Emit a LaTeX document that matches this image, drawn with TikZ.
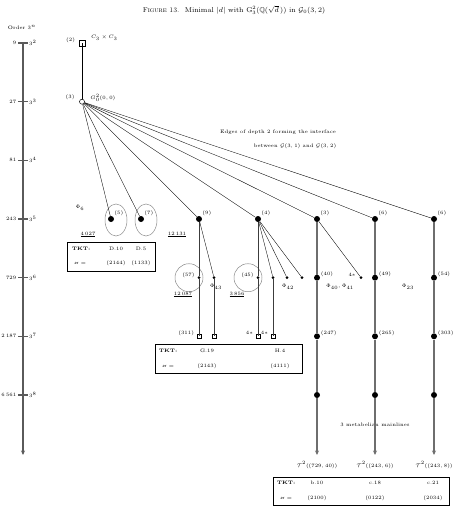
\documentclass[tikz,border=0pt]{standalone}
\usepackage{amsmath}
\usepackage{amssymb}
\usepackage{xcolor}
\usepackage{tikz}
\usetikzlibrary{arrows.meta, positioning, calc, shapes.geometric}
\definecolor{inkAxis}{HTML}{5A5A5A}
\definecolor{inkMain}{HTML}{6E6E6E}
\definecolor{inkStem}{HTML}{3C3C3C}
\definecolor{inkRing}{HTML}{8A8A8A}

\begin{document}
\begin{tikzpicture}[
    x=1pt, y=-1pt,
    lab/.style={font=\fontsize{5}{6}\selectfont, inner sep=0.5pt},
    bigdot/.style={circle, fill=black, inner sep=0pt, minimum size=6pt},
    smalldot/.style={circle, fill=black, inner sep=0pt, minimum size=3pt},
    abel/.style={rectangle, draw, line width=0.6pt, inner sep=0pt, minimum size=4pt},
    rootsq/.style={abel, minimum size=6pt},
    capnode/.style={circle, draw, line width=0.5pt, inner sep=0pt, minimum size=5pt},
    oval/.style={ellipse, draw=inkRing, line width=0.5pt, inner sep=0pt,
                 minimum width=22pt, minimum height=32pt},
    ring/.style={circle, draw=inkRing, line width=0.5pt, inner sep=0pt, minimum size=28pt},
    tkt/.style={rectangle, draw, line width=0.7pt, inner sep=0pt},
    thin/.style={line width=0.35pt},
    stem/.style={line width=0.9pt, draw=inkStem},
    mainline/.style={line width=1.4pt, draw=inkMain},
    axis/.style={line width=1.2pt, draw=inkAxis},
    arr/.style={-{Stealth[length=4.5pt, width=4pt]}},
  ]
    \useasboundingbox (0,0) rectangle (459,512);

    \node[font=\fontsize{7}{8.5}\selectfont] (title) at (234,10)
      {\textsc{Figure 13.}\ \ Minimal $\lvert d\rvert$ with $\mathrm{G}^2_3(\mathbb{Q}(\sqrt{d}\,))$ in $\mathcal{G}_0(3,2)$};

    % order scale
    \node[lab] (order) at (22,27) {Order $3^n$};
    \coordinate (axtop) at (23,43);
    \coordinate (axend) at (23,455);
    \draw[axis, arr] (axtop) -- (axend);
    \foreach \k/\n [count=\i from 0] in {2/9, 3/27, 4/81, 5/243, 6/729, 7/2\,187, 8/6\,561} {
      \coordinate (t\k) at (23,43+58.67*\i);
      \draw[axis] ([xshift=-5pt]t\k) -- ([xshift=5pt]t\k);
      \node[lab, anchor=east] (num\k) at ([xshift=-6pt]t\k) {$\n$};
      \node[lab, anchor=west] (pow\k) at ([xshift=5.5pt]t\k) {$3^{\k}$};
    }

    % root and its child
    \node[rootsq] (root) at (82,43) {};
    \node[lab, left=3pt of root, yshift=3pt] (lroot) {(2)};
    \node[lab, right=5pt of root, yshift=5pt] (groot) {$C_3\times C_3$};
    \node[capnode] (gz) at (82,101.7) {};
    \node[lab, left=4pt of gz, yshift=4pt] (lgz) {(3)};
    \node[lab, right=5pt of gz, yshift=4pt] (ggz) {$G^2_0(0,0)$};
    \draw[thin] (root.center) -- (gz);

    % depth 2 edges
    \node[lab] (note1) at (278,132) {Edges of depth 2 forming the interface};
    \node[lab] (note2) at (295,146) {between $\mathcal{G}(3,1)$ and $\mathcal{G}(3,2)$};

    % order 243
    \node[bigdot] (n5) at (111,219) {};
    \node[bigdot] (n7) at (141,219) {};
    \node[bigdot] (n9) at (199,219) {};
    \node[bigdot] (n4) at (258,219) {};
    \node[bigdot] (n3) at (317,219) {};
    \node[bigdot] (n6a) at (375,219) {};
    \node[bigdot] (n6b) at (434,219) {};
    \node[lab, above right=0pt and 0.5pt of n5] (l5) {(5)};
    \node[lab, above right=0pt and 0.5pt of n7] (l7) {(7)};
    \node[lab, above right=0pt and 0.5pt of n9] (l9) {(9)};
    \node[lab, above right=0pt and 0.5pt of n4] (l4) {(4)};
    \node[lab, above right=0pt and 0.5pt of n3] (l3) {(3)};
    \node[lab, above right=0pt and 0.5pt of n6a] (l6a) {(6)};
    \node[lab, above right=0pt and 0.5pt of n6b] (l6b) {(6)};
    \node[oval] (cap5) at (116,220) {};
    \node[oval] (cap7) at (146,220) {};
    \node[lab] (phi6) at (80,208) {$\Phi_6$};
    \node[lab] (d5) at (88,234) {\underline{$4\,027$}};
    \node[lab] (d9) at (177,234) {\underline{$12\,131$}};

    \foreach \t in {n5, n7, n9, n4, n3, n6a, n6b}
      \draw[thin] (gz) -- (\t);

    % order 729
    \node[smalldot] (a57) at (199,277.7) {};
    \node[smalldot] (a43) at (214,277.7) {};
    \node[smalldot] (b45) at (258,277.7) {};
    \node[smalldot] (b1) at (273,277.7) {};
    \node[smalldot] (b2) at (287,277.7) {};
    \node[smalldot] (b3) at (302,277.7) {};
    \node[smalldot] (c1) at (361,277.7) {};
    \node[bigdot] (m40) at (317,277.7) {};
    \node[bigdot] (m49) at (375,277.7) {};
    \node[bigdot] (m54) at (434,277.7) {};
    \node[ring] (ring57) at (189,277.7) {};
    \node[ring] (ring45) at (248,277.7) {};
    \node[lab, left=2pt of a57, yshift=2.5pt] (l57) {(57)};
    \node[lab, left=2pt of b45, yshift=2.5pt] (l45) {(45)};
    \node[lab, left=3pt of c1, yshift=2.5pt] (lc1) {$4\ast$};
    \node[lab, above right=-2pt and 1pt of m40] (l40) {(40)};
    \node[lab, above right=-2pt and 1pt of m49] (l49) {(49)};
    \node[lab, above right=-2pt and 1pt of m54] (l54) {(54)};
    \node[lab] (phi43) at (216,287) {$\Phi_{43}$};
    \node[lab] (phi42) at (288,287) {$\Phi_{42}$};
    \node[lab] (phi40) at (340,287) {$\Phi_{40},\Phi_{41}$};
    \node[lab] (phi23) at (408,287) {$\Phi_{23}$};
    \node[lab] (d57) at (183,294) {\underline{$12\,087$}};
    \node[lab] (d45) at (237,294) {\underline{$3\,856$}};

    % order 2187
    \node[abel] (s311) at (199,336.3) {};
    \node[abel] (s43) at (214,336.3) {};
    \node[abel] (s45) at (258,336.3) {};
    \node[abel] (s1) at (273,336.3) {};
    \node[bigdot] (m247) at (317,336.3) {};
    \node[bigdot] (m265) at (375,336.3) {};
    \node[bigdot] (m303) at (434,336.3) {};
    \node[lab, left=2pt of s311, yshift=3pt] (l311) {(311)};
    \node[lab, left=2pt of s45, yshift=3pt] (l45s) {$4\ast$};
    \node[lab, left=2pt of s1, yshift=3pt] (l1s) {$4\ast$};
    \node[lab, above right=-2pt and 1pt of m247] (l247) {(247)};
    \node[lab, above right=-2pt and 1pt of m265] (l265) {(265)};
    \node[lab, above right=-2pt and 1pt of m303] (l303) {(303)};

    % order 6561
    \node[bigdot] (m8a) at (317,395) {};
    \node[bigdot] (m8b) at (375,395) {};
    \node[bigdot] (m8c) at (434,395) {};
    \coordinate (ea) at (317,455);
    \coordinate (eb) at (375,455);
    \coordinate (ec) at (434,455);
    \node[lab] (Ta) at (317,465) {$\mathcal{T}^2((729,40))$};
    \node[lab] (Tb) at (375,465) {$\mathcal{T}^2((243,6))$};
    \node[lab] (Tc) at (434,465) {$\mathcal{T}^2((243,8))$};
    \node[lab] (mains) at (375,425) {3 metabelian mainlines};

    % branches
    \draw[stem] (n9) -- (a57) -- (s311.center);
    \draw[thin] (n9) -- (a43);
    \draw[stem] (a43) -- (s43.center);
    \draw[stem] (n4) -- (b45) -- (s45.center);
    \draw[thin] (n4) -- (b1);
    \draw[stem] (b1) -- (s1.center);
    \draw[thin] (n4) -- (b2);
    \draw[thin] (n4) -- (b3);
    \draw[thin] (n3) -- (c1);

    % mainlines
    \draw[mainline] (n3) -- (m40) -- (m247) -- (m8a);
    \draw[mainline] (n6a) -- (m49) -- (m265) -- (m8b);
    \draw[mainline] (n6b) -- (m54) -- (m303) -- (m8c);
    \draw[mainline, arr] (m8a) -- (ea);
    \draw[mainline, arr] (m8b) -- (eb);
    \draw[mainline, arr] (m8c) -- (ec);

    % TKT boxes
    \node[tkt, minimum width=88pt, minimum height=29pt] (box1) at (111,256.5) {};
    \node[lab, font=\fontsize{5}{6}\selectfont\bfseries] (k1) at (81,249) {TKT:};
    \node[lab] (k1a) at (116,249) {D.10};
    \node[lab] (k1b) at (141,249) {D.5};
    \node[lab] (v1) at (80,263) {$\varkappa=$};
    \node[lab] (v1a) at (116,263) {$(2144)$};
    \node[lab] (v1b) at (141,263) {$(1133)$};

    \node[tkt, minimum width=147pt, minimum height=29pt] (box2) at (228.5,358.5) {};
    \node[lab, font=\fontsize{5}{6}\selectfont\bfseries] (k2) at (168,351) {TKT:};
    \node[lab] (k2a) at (207,351) {G.19};
    \node[lab] (k2b) at (280,351) {H.4};
    \node[lab] (v2) at (168,366) {$\varkappa=$};
    \node[lab] (v2a) at (207,366) {$(2143)$};
    \node[lab] (v2b) at (280,366) {$(4111)$};

    \node[tkt, minimum width=176pt, minimum height=28pt] (box3) at (361,491) {};
    \node[lab, font=\fontsize{5}{6}\selectfont\bfseries] (k3) at (286,483) {TKT:};
    \node[lab] (k3a) at (317,483) {b.10};
    \node[lab] (k3b) at (375,483) {c.18};
    \node[lab] (k3c) at (433,483) {c.21};
    \node[lab] (v3) at (286,498) {$\varkappa=$};
    \node[lab] (v3a) at (317,498) {$(2100)$};
    \node[lab] (v3b) at (375,498) {$(0122)$};
    \node[lab] (v3c) at (433,498) {$(2034)$};
  \end{tikzpicture}
\end{document}
